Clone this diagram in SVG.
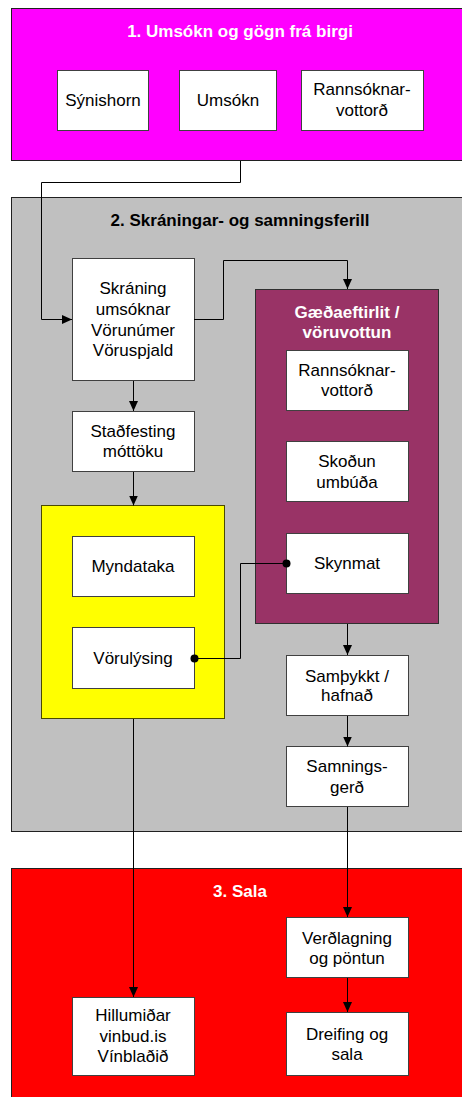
<svg xmlns="http://www.w3.org/2000/svg" width="462" height="1097" viewBox="0 0 462 1097">
<defs>
<style>
.t{font-family:"Liberation Sans",Arial,sans-serif;font-size:17px;fill:#000;text-anchor:middle}
.h{font-family:"Liberation Sans",Arial,sans-serif;font-size:17px;font-weight:bold;fill:#fff;text-anchor:middle}
.hb{font-family:"Liberation Sans",Arial,sans-serif;font-size:17px;font-weight:bold;fill:#000;text-anchor:middle}
.b{fill:#fff;stroke:#404040;stroke-width:1}
.c{fill:none;stroke:#000;stroke-width:1}
</style>
<marker id="ar" markerUnits="userSpaceOnUse" markerWidth="10" markerHeight="10" refX="10" refY="5" orient="auto">
<path d="M0,0.5 L10,5 L0,9.5 z" fill="#000"/>
</marker>
</defs>
<rect width="462" height="1097" fill="#fff"/>
<g id="stage1">
<rect x="11.5" y="8.5" width="460" height="152" fill="#FF00FF" stroke="#202020"/>
<text class="h" x="240" y="37">1. Umsókn og gögn frá birgi</text>
</g>
<g id="stage2">
<rect x="11.5" y="197.5" width="460" height="634" fill="#C0C0C0" stroke="#202020"/>
<text class="hb" x="240" y="226">2. Skráningar- og samningsferill</text>
</g>
<g id="stage3">
<rect x="11.5" y="868.5" width="460" height="240" fill="#FF0000" stroke="#202020"/>
<text class="h" x="240" y="897">3. Sala</text>
</g>
<g id="synishorn">
<rect class="b" x="57.5" y="70.5" width="91" height="60"/>
<text class="t" x="103" y="106">Sýnishorn</text>
</g>
<g id="umsokn">
<rect class="b" x="179.5" y="70.5" width="97" height="60"/>
<text class="t" x="228" y="106">Umsókn</text>
</g>
<g id="rannsokn1">
<rect class="b" x="301.5" y="70.5" width="122" height="60"/>
<text class="t" x="362" y="95">Rannsóknar-</text>
<text class="t" x="362" y="116">vottorð</text>
</g>
<g id="skraning">
<rect class="b" x="72.5" y="258.5" width="122" height="122"/>
<text class="t" x="133" y="294">Skráning</text>
<text class="t" x="133" y="315">umsóknar</text>
<text class="t" x="133" y="336">Vörunúmer</text>
<text class="t" x="133" y="356">Vöruspjald</text>
</g>
<g id="gaedaeftirlit">
<rect x="255.5" y="289.5" width="183" height="334" fill="#993366" stroke="#303030"/>
<text class="h" x="347" y="318">Gæðaeftirlit /</text>
<text class="h" x="347" y="338">vöruvottun</text>
</g>
<g id="rannsokn2">
<rect class="b" x="286.5" y="350.5" width="122" height="60"/>
<text class="t" x="347" y="376">Rannsóknar-</text>
<text class="t" x="347" y="396">vottorð</text>
</g>
<g id="skodun">
<rect class="b" x="286.5" y="441.5" width="122" height="60"/>
<text class="t" x="347" y="467">Skoðun</text>
<text class="t" x="347" y="488">umbúða</text>
</g>
<g id="skynmat">
<rect class="b" x="286.5" y="533.5" width="122" height="60"/>
<text class="t" x="347" y="569">Skynmat</text>
</g>
<g id="stadfesting">
<rect class="b" x="72.5" y="411.5" width="122" height="60"/>
<text class="t" x="133" y="437">Staðfesting</text>
<text class="t" x="133" y="457">móttöku</text>
</g>
<g id="yellow">
<rect x="41.5" y="505.5" width="183" height="213" fill="#FFFF00" stroke="#4a4a00"/>
</g>
<g id="myndataka">
<rect class="b" x="72.5" y="536.5" width="122" height="60"/>
<text class="t" x="133" y="572">Myndataka</text>
</g>
<g id="vorulysing">
<rect class="b" x="72.5" y="627.5" width="122" height="61"/>
<text class="t" x="133" y="664">Vörulýsing</text>
</g>
<g id="samthykkt">
<rect class="b" x="286.5" y="655.5" width="122" height="60"/>
<text class="t" x="347" y="682">Samþykkt /</text>
<text class="t" x="347" y="701">hafnað</text>
</g>
<g id="samningsgerd">
<rect class="b" x="286.5" y="746.5" width="122" height="60"/>
<text class="t" x="347" y="772">Samnings-</text>
<text class="t" x="347" y="793">gerð</text>
</g>
<g id="verdlagning">
<rect class="b" x="286.5" y="917.5" width="122" height="60"/>
<text class="t" x="347" y="944">Verðlagning</text>
<text class="t" x="347" y="964">og pöntun</text>
</g>
<g id="hillumidar">
<rect class="b" x="72.5" y="997.5" width="122" height="78"/>
<text class="t" x="133" y="1021">Hillumiðar</text>
<text class="t" x="133" y="1042">vinbud.is</text>
<text class="t" x="133" y="1062">Vínblaðið</text>
</g>
<g id="dreifing">
<rect class="b" x="286.5" y="1012.5" width="122" height="63"/>
<text class="t" x="347" y="1040">Dreifing og</text>
<text class="t" x="347" y="1060">sala</text>
</g>
<g id="connectors">
<path class="c" d="M240.5,161 V182.5 H41.5 V319.5 H72" marker-end="url(#ar)"/>
<path class="c" d="M194,319.5 H223.5 V260.5 H347.5 V289" marker-end="url(#ar)"/>
<path class="c" d="M133.5,381 V411" marker-end="url(#ar)"/>
<path class="c" d="M133.5,472 V505.5" marker-end="url(#ar)"/>
<path class="c" d="M347.5,624 V655" marker-end="url(#ar)"/>
<path class="c" d="M347.5,716 V746.5" marker-end="url(#ar)"/>
<path class="c" d="M347.5,807 V917" marker-end="url(#ar)"/>
<path class="c" d="M347.5,978 V1012" marker-end="url(#ar)"/>
<path class="c" d="M133.5,719 V997" marker-end="url(#ar)"/>
<path class="c" d="M194.5,658.5 H240.5 V563.5 H286.5"/>
<circle cx="194.5" cy="658.5" r="4" fill="#000"/>
<circle cx="286.5" cy="563.5" r="4" fill="#000"/>
</g>
</svg>
